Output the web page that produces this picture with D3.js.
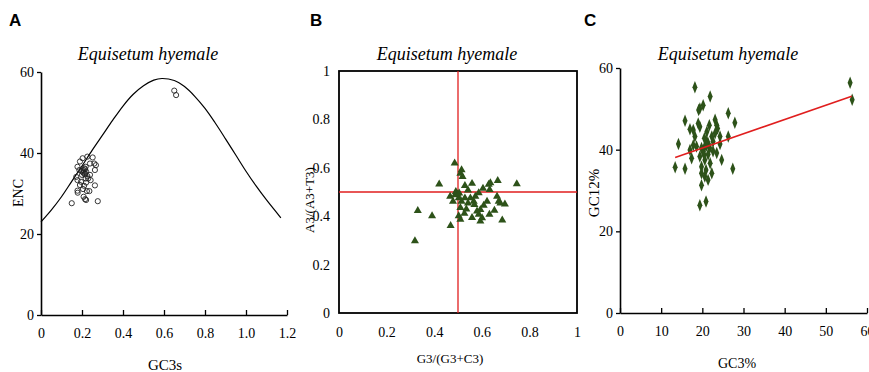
<!DOCTYPE html>
<html><head><meta charset="utf-8">
<script src="https://cdn.jsdelivr.net/npm/d3@7"></script>
<style>
body{margin:0;background:#fff;}
svg{display:block;}
svg text{font-family:'Liberation Serif','DejaVu Serif','Noto Serif',serif !important;fill:#000;}
svg text.letter{font-family:'Liberation Sans',Arial,sans-serif !important;font-weight:bold;font-size:17px;}
.title{font-style:italic;font-size:18px;}
.tick text{font-size:14px;}
</style></head>
<body>
<svg id="c" width="869" height="372"></svg>
<script>
// ---------- Panel A : ENC vs GC3s ----------
const aCurveX = [0,0.05,0.1,0.15,0.2,0.25,0.3,0.35,0.4,0.45,0.5,0.55,0.59,0.65,0.7,0.75,0.8,0.85,0.9,0.95,1.0,1.05,1.1,1.17];
const aCurveY = [23,25.9,29.2,33.0,36.8,40.7,44.4,48.1,51.6,54.5,56.6,58.0,58.4,57.9,56.4,54.0,51.0,47.4,43.5,39.5,35.5,31.8,28.4,24.0];
const aGC3s = [0.15,0.277,0.263,0.179,0.178,0.215,0.22,0.208,0.224,0.205,0.19,0.178,0.172,0.2,0.215,0.22,0.23,0.208,0.212,0.218,0.178,0.19,0.203,0.226,0.252,0.26,0.268,0.263,0.239,0.195,0.22,0.242,0.187,0.226,0.239,0.218,0.21,0.236,0.205,0.212,0.2,0.215,0.65,0.659];
const aENC  = [27.6,28.1,32.0,30.2,30.7,28.6,28.4,29.2,30.6,31.1,32.1,33.3,34.1,34.6,35.0,35.4,33.7,35.8,36.2,36.6,36.6,37.9,38.7,39.1,38.9,37.4,37.0,35.8,37.4,32.9,32.7,33.3,35.8,34.3,34.6,33.7,31.9,30.6,35.2,34.8,35.5,36.0,55.4,54.3];
const aXTicks = [0,0.2,0.4,0.6,0.8,1.0,1.2];
const aXTickLabels = ["0","0.2","0.4","0.6","0.8","1.0","1.2"];
const aYTicks = [0,20,40,60];

// ---------- Panel B : PR2 plot ----------
const bG3 = [0.486,0.421,0.331,0.319,0.391,0.469,0.747,0.667,0.697,0.686,0.515,0.519,0.51,0.529,0.559,0.542,0.467,0.479,0.488,0.503,0.491,0.51,0.503,0.51,0.527,0.535,0.559,0.566,0.552,0.573,0.587,0.605,0.629,0.636,0.633,0.622,0.608,0.594,0.587,0.594,0.601,0.58,0.632,0.653,0.671,0.664,0.678,0.569,0.529,0.515,0.542,0.498,0.505];
const bA3 = [0.619,0.532,0.423,0.298,0.401,0.361,0.533,0.547,0.45,0.384,0.591,0.563,0.577,0.526,0.535,0.508,0.482,0.461,0.488,0.475,0.501,0.435,0.401,0.387,0.411,0.429,0.394,0.461,0.475,0.482,0.496,0.515,0.531,0.538,0.51,0.461,0.445,0.427,0.407,0.379,0.393,0.421,0.407,0.424,0.461,0.482,0.454,0.448,0.475,0.461,0.454,0.49,0.495];
const bTicks = [0,0.2,0.4,0.6,0.8,1];

// ---------- Panel C : neutrality plot ----------
const cGC3 = [55.9,56.4,18.2,21.9,20.2,19.4,19.1,15.8,26.3,27.9,14.2,13.4,15.8,27.4,24.7,21.9,19.4,20.9,19.8,20.6,21.4,22.3,19.8,20.6,19.4,17.4,17.0,17.8,18.2,17.8,17.0,19.0,19.4,21.1,21.7,23.1,23.5,23.7,23.1,22.3,24.3,24.3,22.6,21.4,20.6,19.8,20.2,21.8,22.6,23.5,21.4,19.8,20.9,20.4,26.3,18.6,21.1,20.5,21.0];
const cGC12 = [56.4,52.2,55.3,53.0,50.9,50.1,49.7,47.1,48.9,46.6,41.4,35.7,35.3,35.3,37.5,36.7,26.4,27.3,31.3,33.4,32.6,34.2,35.8,37.5,38.3,37.9,39.9,41.1,43.2,44.8,45.0,46.4,45.6,44.4,46.0,47.3,46.0,45.2,44.0,43.2,43.2,41.4,42.0,41.6,40.8,40.4,39.6,40.4,39.6,39.2,38.8,34.2,35.0,38.8,43.2,40.8,42.0,42.8,41.0];
const cFitX = [13.4,56.3];
const cFitY = [38.1,53.1];
const cXTicks = [0,10,20,30,40,50,60];
const cYTicks = [0,20,40,60];

const svg = d3.select("#c");
const green = "#2d5219";
const red = "#e01e1e";
const title = "Equisetum hyemale";
const SERIF = "'Liberation Serif','DejaVu Serif','Noto Serif',serif";

function styleAxis(a){
  a.attr("font-family",SERIF);
  a.selectAll("text").attr("font-family",SERIF).style("font-size","14px");
}

// ===== Panel A =====
{
  const x = d3.scaleLinear().domain([0,1.2]).range([41,287]);
  const y = d3.scaleLinear().domain([0,60]).range([315,72]);
  const g = svg.append("g");
  g.append("text").attr("class","letter").attr("x",9).attr("y",26).text("A");
  g.append("text").attr("class","title").attr("x",148).attr("y",60).attr("text-anchor","middle").text(title);
  const xa = g.append("g").attr("transform","translate(0,315)")
    .call(d3.axisBottom(x).tickValues(aXTicks).tickFormat((d,i)=>aXTickLabels[i]).tickSizeInner(-5).tickSizeOuter(0).tickPadding(13));
  const ya = g.append("g").attr("transform","translate(41,0)")
    .call(d3.axisLeft(y).tickValues(aYTicks).tickSizeInner(4).tickSizeOuter(0).tickPadding(3));
  [xa,ya].forEach(a=>{styleAxis(a);a.select(".domain").attr("stroke","#000").attr("stroke-width",1.6);a.selectAll(".tick line").attr("stroke-width",1.3);});
  const line = d3.line().x((d,i)=>x(aCurveX[i])).y((d,i)=>y(aCurveY[i])).curve(d3.curveCatmullRom);
  g.append("path").datum(aCurveX).attr("d",line).attr("fill","none").attr("stroke","#000").attr("stroke-width",1.2);
  g.selectAll("circle.p").data(aGC3s).join("circle").attr("class","p")
    .attr("cx",d=>x(d)).attr("cy",(d,i)=>y(aENC[i])).attr("r",2.6)
    .attr("fill","none").attr("stroke","#222").attr("stroke-width",0.9);
  g.append("text").attr("x",20).attr("y",193).attr("transform","rotate(-90,20,193)").attr("text-anchor","middle").attr("dominant-baseline","middle").style("font-size","14px").text("ENC");
  g.append("text").attr("x",165).attr("y",370).attr("text-anchor","middle").style("font-size","15px").text("GC3s");
}

// ===== Panel B =====
{
  const x = d3.scaleLinear().domain([0,1]).range([339,577]);
  const y = d3.scaleLinear().domain([0,1]).range([313,71]);
  const g = svg.append("g");
  g.append("text").attr("class","letter").attr("x",310).attr("y",26).text("B");
  g.append("text").attr("class","title").attr("x",447).attr("y",60).attr("text-anchor","middle").text(title);
  const xa = g.append("g").attr("transform","translate(0,313)")
    .call(d3.axisBottom(x).tickValues(bTicks).tickFormat(d3.format("~g")).tickSize(0).tickPadding(14));
  const ya = g.append("g").attr("transform","translate(339,0)")
    .call(d3.axisLeft(y).tickValues(bTicks).tickFormat(d3.format("~g")).tickSize(0).tickPadding(9));
  [xa,ya].forEach(a=>{styleAxis(a);a.select(".domain").remove();});
  g.append("rect").attr("x",339).attr("y",71).attr("width",238).attr("height",242)
    .attr("fill","none").attr("stroke","#000").attr("stroke-width",1.8);
  g.append("line").attr("x1",x(0.5)).attr("x2",x(0.5)).attr("y1",y(1)).attr("y2",y(0)).attr("stroke",red).attr("stroke-width",1.3);
  g.append("line").attr("x1",x(0)).attr("x2",x(1)).attr("y1",y(0.5)).attr("y2",y(0.5)).attr("stroke",red).attr("stroke-width",1.6);
  const tri = d3.symbol().type(d3.symbolTriangle).size(28);
  g.selectAll("path.p").data(bG3).join("path").attr("class","p")
    .attr("transform",(d,i)=>`translate(${x(d)},${y(bA3[i])})`).attr("d",tri).attr("fill",green);
  g.append("text").attr("x",311).attr("y",200).attr("transform","rotate(-90,311,200)").attr("text-anchor","middle").attr("dominant-baseline","middle").style("font-size","13px").text("A3/(A3+T3)");
  g.append("text").attr("x",450).attr("y",363).attr("text-anchor","middle").style("font-size","13px").text("G3/(G3+C3)");
}

// ===== Panel C =====
{
  const x = d3.scaleLinear().domain([0,60]).range([620,867]);
  const y = d3.scaleLinear().domain([0,60]).range([313,68]);
  const g = svg.append("g");
  g.append("text").attr("class","letter").attr("x",584).attr("y",26).text("C");
  g.append("text").attr("class","title").attr("x",728).attr("y",60).attr("text-anchor","middle").text(title);
  const xa = g.append("g").attr("transform","translate(0,313)")
    .call(d3.axisBottom(x).tickValues(cXTicks).tickSizeInner(-5).tickSizeOuter(0).tickPadding(13));
  const ya = g.append("g").attr("transform","translate(620,0)")
    .call(d3.axisLeft(y).tickValues(cYTicks).tickSizeInner(4).tickSizeOuter(0).tickPadding(3));
  [xa,ya].forEach(a=>{styleAxis(a);a.select(".domain").attr("stroke","#000").attr("stroke-width",1.6);a.selectAll(".tick line").attr("stroke-width",1.3);});
  const dia = d3.symbol().type(d3.symbolDiamond).size(34);
  g.selectAll("path.p").data(cGC3).join("path").attr("class","p")
    .attr("transform",(d,i)=>`translate(${x(d)},${y(cGC12[i])}) scale(0.8,1.15)`).attr("d",dia).attr("fill",green);
  g.append("line").attr("x1",x(cFitX[0])).attr("y1",y(cFitY[0])).attr("x2",x(cFitX[1])).attr("y2",y(cFitY[1]))
    .attr("stroke",red).attr("stroke-width",1.6);
  g.append("text").attr("x",596).attr("y",193).attr("transform","rotate(-90,596,193)").attr("text-anchor","middle").attr("dominant-baseline","middle").style("font-size","15px").text("GC12%");
  g.append("text").attr("x",737).attr("y",368).attr("text-anchor","middle").style("font-size","14px").text("GC3%");
}
</script>
</body></html>
